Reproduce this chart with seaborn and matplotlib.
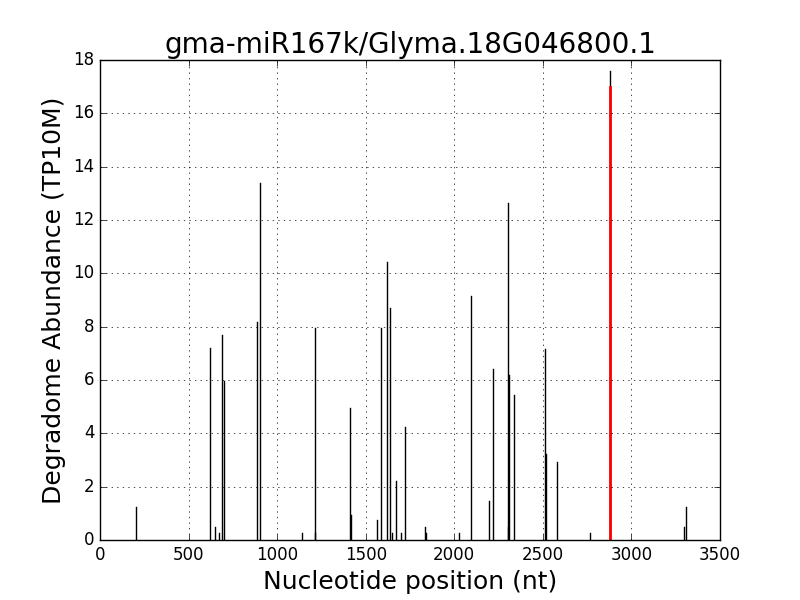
import matplotlib
matplotlib.use("Agg")
import matplotlib.pyplot as plt
import seaborn as sns
import pandas as pd

# Data
positions = [205, 623, 651, 674, 691, 700, 886, 905, 1142, 1212, 1215, 1413, 1415,
             1566, 1588, 1622, 1639, 1650, 1673, 1701, 1724, 1837, 1843, 2028, 2092,
             2198, 2220, 2302, 2305, 2311, 2339, 2514, 2520, 2582, 2764, 2879, 3299, 3308]
abundance = [1.23, 7.19, 0.47, 0.25, 7.67, 5.98, 8.16, 13.37, 0.25, 7.94, 0.25, 4.94, 0.94,
             0.74, 7.94, 10.42, 8.69, 0.25, 2.2, 0.25, 4.22, 0.47, 0.25, 0.25, 9.16,
             1.47, 6.43, 0.47, 12.65, 6.17, 5.45, 7.18, 3.21, 2.94, 0.25, 17.6, 0.47, 1.23]
target_position = [2879]
target_abundance = [16.97]

title = "gma-miR167k/Glyma.18G046800.1"
xlabel = "Nucleotide position (nt)"
ylabel = "Degradome Abundance (TP10M)"
xticks = [0, 500, 1000, 1500, 2000, 2500, 3000, 3500]
yticks = [0, 2, 4, 6, 8, 10, 12, 14, 16, 18]

plt.style.use("classic")
plt.rcParams["figure.facecolor"] = "white"
plt.rcParams["savefig.facecolor"] = "white"
plt.rcParams["font.family"] = ["DejaVu Sans"]


def to_long(pos, vals):
    rows = []
    for i, (p, v) in enumerate(zip(pos, vals)):
        rows.append({"id": i, "pos": p, "val": 0.0})
        rows.append({"id": i, "pos": p, "val": v})
    return pd.DataFrame(rows)


fig = plt.figure(figsize=(8, 6), dpi=100)
ax = fig.add_axes([0.125, 0.1, 0.775, 0.8])

sns.lineplot(data=to_long(positions, abundance), x="pos", y="val", units="id",
             estimator=None, color="black", lw=1, sort=False, ax=ax, legend=False)
sns.lineplot(data=to_long(target_position, target_abundance), x="pos", y="val", units="id",
             estimator=None, color="red", lw=2, sort=False, ax=ax, legend=False)

ax.set_xlim(0, 3500)
ax.set_ylim(0, 18)
ax.set_xticks(xticks)
ax.set_yticks(yticks)
ax.grid(True, color="black", linestyle=":", linewidth=0.5)
ax.set_title(title, fontsize=20)
ax.set_xlabel(xlabel, fontsize=18)
ax.set_ylabel(ylabel, fontsize=18)
ax.tick_params(labelsize=12)

fig.savefig("out.png", dpi=100)
